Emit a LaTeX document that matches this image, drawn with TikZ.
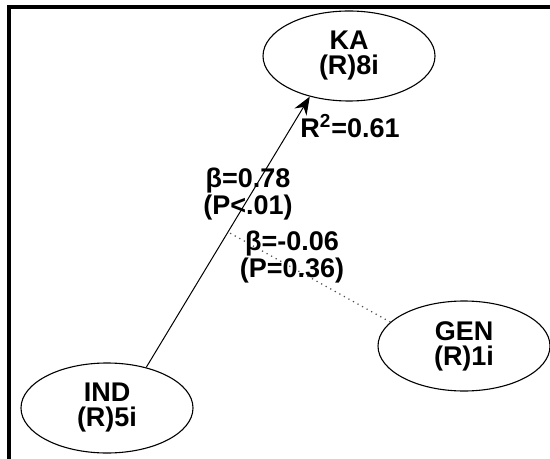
\documentclass[tikz,border=0pt]{standalone}
\usepackage{fontspec}
\setmainfont{Liberation Sans}
\usetikzlibrary{shapes.geometric,arrows.meta}
\begin{document}
\begin{tikzpicture}[
    x = 0.5pt,
    y = -0.5pt,
    >={Stealth[length=9pt,width=7pt]},
    construct/.style = {ellipse, draw=black, line width=0.55pt,
              minimum width=86pt, minimum height=45pt,
              inner sep=0pt, align=center,
              font=\bfseries\fontsize{13.5}{12.5}\selectfont},
    coef/.style = {align=center, inner sep=0pt,
              font=\bfseries\fontsize{13.5}{12.5}\selectfont},
    ]

\useasboundingbox (0,0) rectangle (550,459);
\draw [black, line width=1.75pt] (9,459) -- (9,7) -- (550,7);

\node[construct] (ka) at (349,56){KA\\(R)8i};
\node[construct] (ind) at (107,408){IND\\(R)5i};
\node[construct] (gen) at (464,346){GEN\\(R)1i};

\draw [->, black, line width=0.5pt] (ind.46) to coordinate[pos=0.5] (moderate) (ka.226);
\draw [black!70, dotted, line width=0.6pt] (gen.162) -- (moderate);

\node[coef] (r2) at (350,126){R\textsuperscript{2}=0.61};
\node[coef] (beta_ind) at (248,194){β=0.78\\(P<.01)};
\node[coef] (beta_gen) at (292,257){β=-0.06\\(P=0.36)};

\end{tikzpicture}
\end{document}
